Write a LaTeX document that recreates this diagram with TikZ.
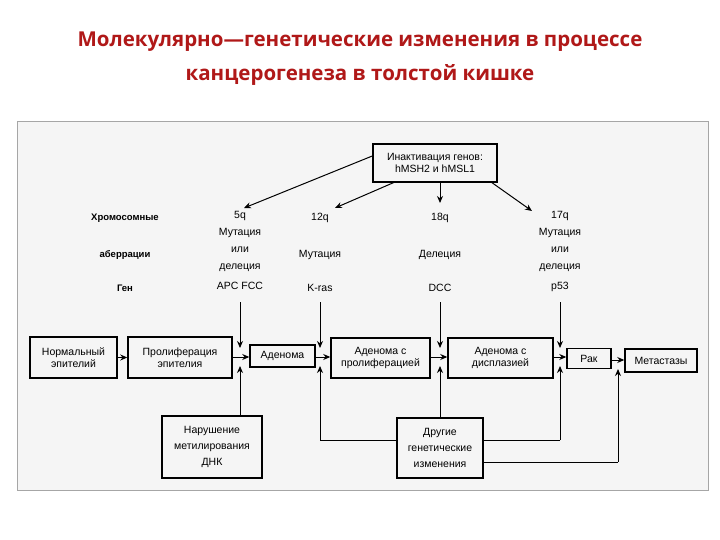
\documentclass[tikz,border=0pt]{standalone}
\usepackage{fontspec}
\setmainfont{Liberation Sans}
\newfontfamily\titlefont{Open Sans}
\usetikzlibrary{arrows.meta}
\definecolor{titlered}{HTML}{B01818}
\begin{document}
\begin{tikzpicture}[x=1pt,y=-1pt,
  box/.style={draw,line width=1.5pt,align=center,font=\fontsize{10.5}{12}\selectfont,inner sep=2pt},
  lbl/.style={align=center,font=\fontsize{10.5}{16.5}\selectfont,inner sep=0pt},
  arr/.style={-{Stealth[length=7pt,width=6pt]},line width=1pt},
  ln/.style={line width=1pt}]
\useasboundingbox (0,0) rectangle (720,540);
\fill[white] (0,0) rectangle (720,540);
\draw[gray!70,line width=1pt,fill=black!4] (17,122) rectangle (708,490);
\node[font=\titlefont\bfseries\fontsize{20.5}{22}\selectfont,text=titlered] (t1) at (360,42) {Молекулярно—генетические изменения в процессе};
\node[font=\titlefont\bfseries\fontsize{20.5}{22}\selectfont,text=titlered] (t2) at (360,75) {канцерогенеза в толстой кишке};

\node[box,minimum width=87pt,minimum height=41pt] (n1) at (73.5,357.5) {Нормальный\\эпителий};
\node[box,minimum width=104pt,minimum height=41pt] (n2) at (180,357.5) {Пролиферация\\эпителия};
\node[box,minimum width=65pt,minimum height=22pt] (n3) at (282.5,356) {Аденома};
\node[box,minimum width=99pt,minimum height=40pt] (n4) at (380.5,358) {Аденома с\\пролиферацией};
\node[box,minimum width=105pt,minimum height=40pt] (n5) at (500.5,358) {Аденома с\\дисплазией};
\node[box,minimum width=44pt,minimum height=20pt] (n6) at (589,358.5) {Рак};
\node[box,minimum width=72pt,minimum height=23pt] (n7) at (661,360.5) {Метастазы};
\node[box,minimum width=124pt,minimum height=38pt] (ina) at (435,163) {Инактивация генов:\\hMSH2 и hMSL1};
\node[box,minimum width=100pt,minimum height=62pt,font=\fontsize{10.5}{16}\selectfont] (nar) at (212,447) {Нарушение\\метилирования\\ДНК};
\node[box,minimum width=86pt,minimum height=60pt,font=\fontsize{10.5}{16}\selectfont] (dr) at (440,448) {Другие\\генетические\\изменения};

\node[lbl,font=\bfseries\fontsize{9.5}{10}\selectfont] (l1) at (125,218) {Хромосомные};
\node[lbl,font=\bfseries\fontsize{9.5}{10}\selectfont] (l2) at (125,255) {аберрации};
\node[lbl,font=\bfseries\fontsize{9.5}{10}\selectfont] (l3) at (125,288) {Ген};

\node[lbl,anchor=north,font=\fontsize{10.5}{17}\selectfont] (c5) at (240,211) {5q\\Мутация\\или\\делеция\\[3pt]APC FCC};
\node[lbl] (c12a) at (320,218) {12q};
\node[lbl] (c12b) at (320,255) {Мутация};
\node[lbl] (c12c) at (320,288) {K-ras};
\node[lbl] (c18a) at (440,218) {18q};
\node[lbl] (c18b) at (440,255) {Делеция};
\node[lbl] (c18c) at (440,288) {DCC};
\node[lbl,anchor=north,font=\fontsize{10.5}{17}\selectfont] (c17) at (560,211) {17q\\Мутация\\или\\делеция\\[3pt]p53};

\coordinate (j1) at (240,357);
\coordinate (j2) at (320,357);
\coordinate (j3) at (440,357);
\coordinate (j4) at (560,357);
\coordinate (j5) at (618,360);

\draw[arr] (n1) -- (n2);
\draw[arr] (n2.east|-j1) -- (n3.west|-j1);
\draw[arr] (n3.east|-j2) -- (n4.west|-j2);
\draw[arr] (n4.east|-j3) -- (n5.west|-j3);
\draw[arr] (n5.east|-j4) -- (n6.west|-j4);
\draw[arr] (n6.east|-j5) -- (n7.west|-j5);

\draw[arr] (240,302) -- (240,348);
\draw[arr] (320,302) -- (320,348);
\draw[arr] (440,302) -- (440,348);
\draw[arr] (560,302) -- (560,348);

\draw[arr] (nar.north-|j1) -- (240,366);
\draw[arr] (dr.north-|j3) -- (440,366);
\draw[ln] (dr.west|-0,440) -- (320,440);
\draw[arr] (320,440) -- (320,366);
\draw[ln] (dr.east|-0,440) -- (560,440);
\draw[arr] (560,440) -- (560,366);
\draw[ln] (dr.east|-0,462) -- (618,462);
\draw[arr] (618,462) -- (618,369);

\draw[arr] (ina.west) ++(0,-7) -- (244,208);
\draw[arr] (395,182) -- (335,208);
\draw[arr] (440,182) -- (440,203);
\draw[arr] (491,182) -- (532,211);
\end{tikzpicture}
\end{document}
